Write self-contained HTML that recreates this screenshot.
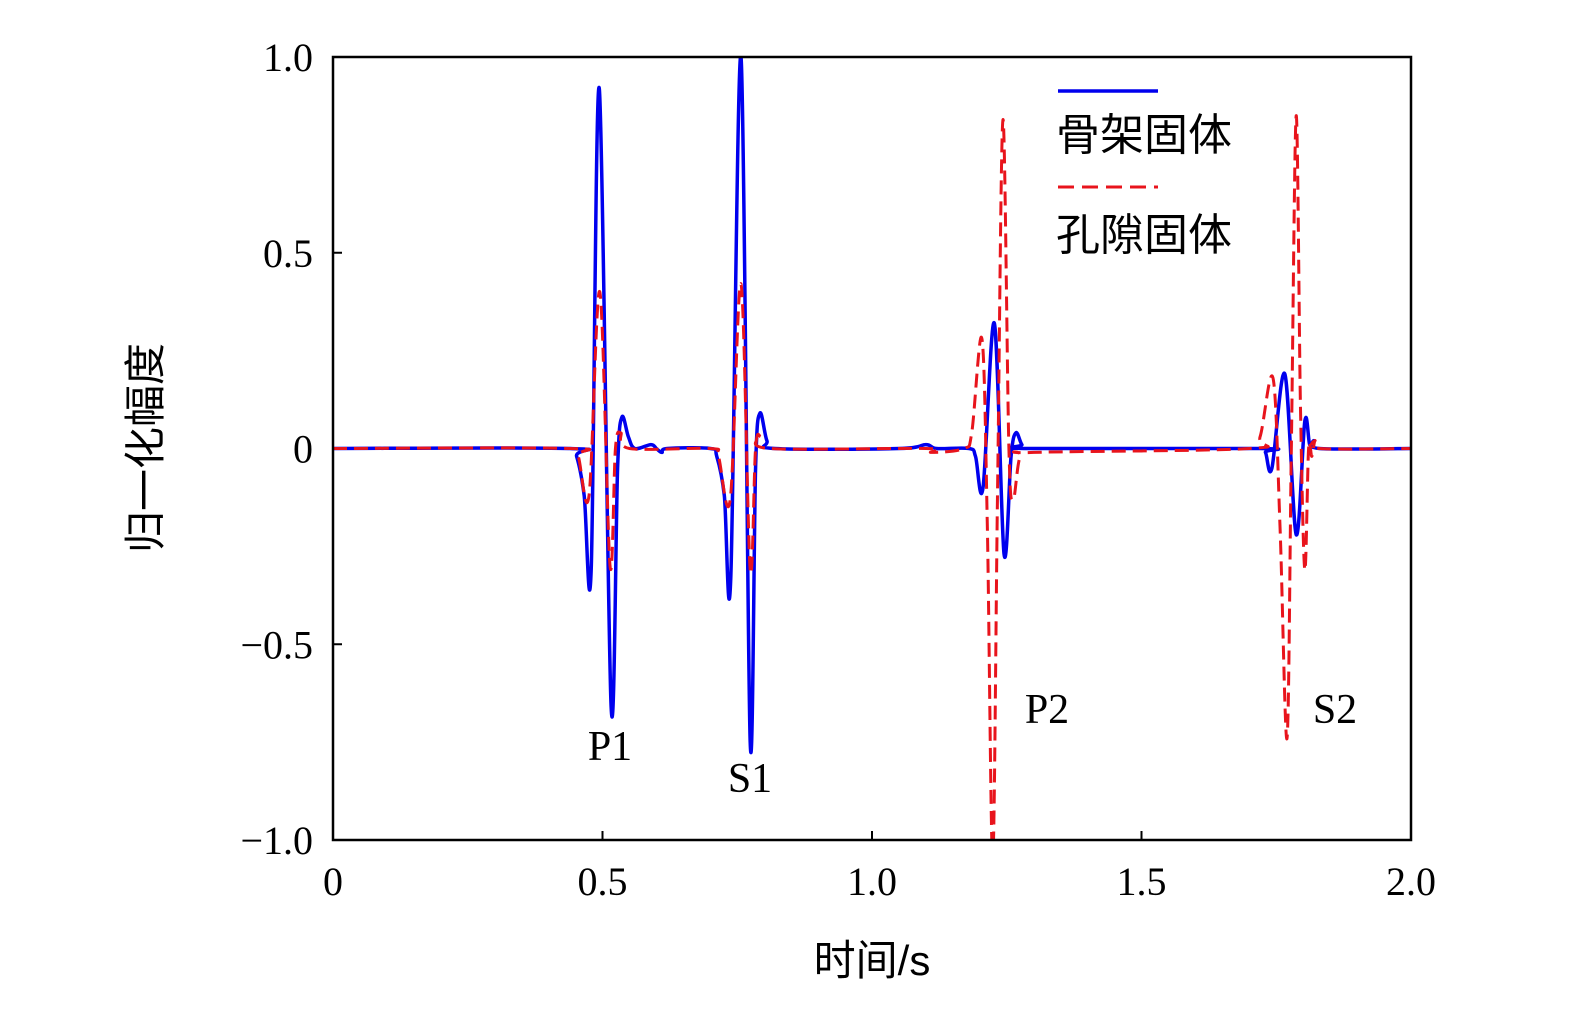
<!DOCTYPE html>
<html><head><meta charset="utf-8"><style>
body{margin:0;background:#fff}
svg text{font-family:"Liberation Serif","Noto Serif CJK SC",serif;fill:#000}
.cjk{font-family:"Liberation Sans","Noto Sans CJK SC",sans-serif}
</style></head><body>
<svg id="chart" width="1575" height="1005" viewBox="0 0 1575 1005" xmlns="http://www.w3.org/2000/svg">
<g id="ticks"></g>
<g id="series"></g>
<rect x="333" y="57" width="1078" height="783" fill="none" stroke="#000" stroke-width="2.5"/>
<text class="cjk" font-size="42" transform="translate(160,448) rotate(-90)" text-anchor="middle">归一化幅度</text>
<text class="cjk" font-size="42" x="872" y="975" text-anchor="middle">时间/s</text>
<g>
<line x1="1058" y1="91" x2="1158" y2="91" stroke="#0000ee" stroke-width="3.5"/>
<text class="cjk" font-size="44" x="1056" y="150">骨架固体</text>
<line x1="1058" y1="187" x2="1158" y2="187" stroke="#e8141c" stroke-width="3" stroke-dasharray="16 8"/>
<text class="cjk" font-size="44" x="1056" y="250">孔隙固体</text>
</g>
<text font-size="42" x="610" y="760" text-anchor="middle">P1</text>
<text font-size="42" x="750" y="792" text-anchor="middle">S1</text>
<text font-size="42" x="1047" y="723" text-anchor="middle">P2</text>
<text font-size="42" x="1335" y="723" text-anchor="middle">S2</text>
</svg>
<script>
const xTicks=[0,0.5,1.0,1.5,2.0];
const xTickLabels=["0","0.5","1.0","1.5","2.0"];
const yTicks=[-1,-0.5,0,0.5,1];
const yTickLabels=["\u22121.0","\u22120.5","0","0.5","1.0"];
const skeletonT=[0,0.44,0.452,0.466,0.479,0.494,0.516,0.528,0.536,0.548,0.56,0.59,0.6,0.61,0.62,0.7,0.712,0.726,0.738,0.757,0.774,0.784,0.792,0.805,0.82,1.05,1.1,1.12,1.18,1.192,1.206,1.227,1.245,1.258,1.267,1.278,1.29,1.72,1.73,1.742,1.766,1.787,1.803,1.812,1.82,1.83,2.0];
const skeletonV=[0,0,-0.02,-0.12,-0.31,0.92,-0.66,-0.05,0.08,0.03,0,0.01,0,-0.01,0,0,-0.02,-0.12,-0.33,1.0,-0.75,-0.05,0.09,0.02,0,0,0.01,0,0,-0.02,-0.10,0.32,-0.27,-0.02,0.04,0.01,0,0,-0.01,-0.05,0.19,-0.22,0.07,0.01,0.02,0,0];
const poreT=[0,0.44,0.455,0.475,0.495,0.514,0.524,0.534,0.55,0.7,0.715,0.737,0.757,0.774,0.784,0.794,0.81,1.1,1.11,1.17,1.185,1.204,1.214,1.224,1.233,1.243,1.254,1.262,1.275,1.3,1.7,1.72,1.744,1.757,1.770,1.778,1.787,1.795,1.803,1.81,1.816,1.822,1.83,2.0];
const poreV=[0,0,-0.02,-0.12,0.40,-0.30,0.0,0.04,0,0,-0.02,-0.13,0.42,-0.31,0.0,0.03,0,0,-0.01,0,0.04,0.28,-0.2,-1.05,-0.1,0.84,0.0,-0.13,-0.02,-0.01,0,0.03,0.18,-0.2,-0.74,0.0,0.85,0.1,-0.31,0.0,-0.02,0.02,0,0];
const X0=333,X1=1411,Y0=840,Y1=57;
const sx=t=>X0+(t-0)/(2-0)*(X1-X0);
const sy=v=>Y0-(v+1)/2*(Y0-Y1);
const NS="http://www.w3.org/2000/svg";
const tg=document.getElementById('ticks');
xTicks.forEach((t,i)=>{
  const l=document.createElementNS(NS,'line');
  
  
  l.setAttribute('x1',sx(t));l.setAttribute('x2',sx(t));l.setAttribute('y1',Y0);l.setAttribute('y2',Y0-9);
  l.setAttribute('stroke','#000');l.setAttribute('stroke-width','2');tg.appendChild(l);
  const tx=document.createElementNS(NS,'text');
  
  
  tx.setAttribute('x',sx(t));tx.setAttribute('y',895);tx.setAttribute('text-anchor','middle');tx.setAttribute('font-size','40');
  tx.textContent=xTickLabels[i];tg.appendChild(tx);
});
yTicks.forEach((v,i)=>{
  const l=document.createElementNS(NS,'line');
  
  
  l.setAttribute('x1',X0);l.setAttribute('x2',X0+9);l.setAttribute('y1',sy(v));l.setAttribute('y2',sy(v));
  l.setAttribute('stroke','#000');l.setAttribute('stroke-width','2');tg.appendChild(l);
  const tx=document.createElementNS(NS,'text');
  
  
  tx.setAttribute('x',313);tx.setAttribute('y',sy(v)+14);tx.setAttribute('text-anchor','end');tx.setAttribute('font-size','40');
  tx.textContent=yTickLabels[i];tg.appendChild(tx);
});
function pathFor(T,V){
  const p=T.map((t,i)=>[sx(t),sy(V[i])]);
  let d='M'+p[0][0]+','+p[0][1];
  for(let i=0;i<p.length-1;i++){
    const a=p[Math.max(0,i-1)],b=p[i],c=p[i+1],e=p[Math.min(p.length-1,i+2)];
    const c1x=b[0]+(c[0]-a[0])/6,c1y=b[1]+(c[1]-a[1])/6;
    const c2x=c[0]-(e[0]-b[0])/6,c2y=c[1]-(e[1]-b[1])/6;
    d+=` C${c1x},${c1y} ${c2x},${c2y} ${c[0]},${c[1]}`;
  }
  return d;
}
const sg=document.getElementById('series');
const cp=document.createElementNS(NS,'clipPath');cp.setAttribute('id','clip');
const cr=document.createElementNS(NS,'rect');cr.setAttribute('x',X0);cr.setAttribute('y',Y1);cr.setAttribute('width',X1-X0);cr.setAttribute('height',Y0-Y1);
cp.appendChild(cr);sg.appendChild(cp);
const b=document.createElementNS(NS,'path');


b.setAttribute('d',pathFor(skeletonT,skeletonV));b.setAttribute('fill','none');b.setAttribute('stroke','#0000ee');b.setAttribute('stroke-width','3.5');b.setAttribute('clip-path','url(#clip)');
sg.appendChild(b);
const r=document.createElementNS(NS,'path');


r.setAttribute('d',pathFor(poreT,poreV));r.setAttribute('fill','none');r.setAttribute('stroke','#e8141c');r.setAttribute('stroke-width','3');r.setAttribute('stroke-dasharray','14 7');r.setAttribute('clip-path','url(#clip)');
sg.appendChild(r);
</script>
</body></html>
